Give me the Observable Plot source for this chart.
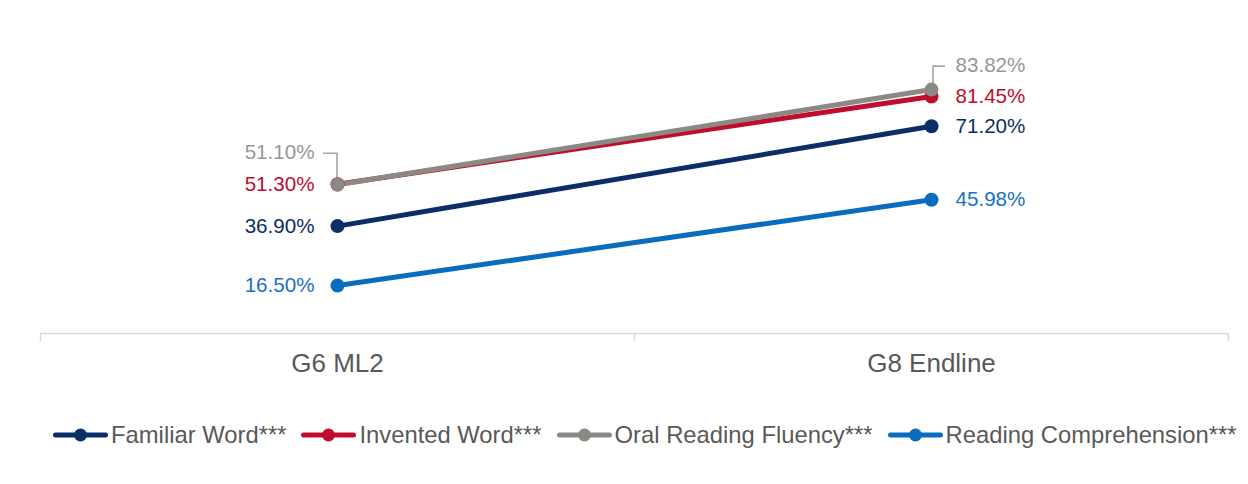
<!DOCTYPE html>
<html>
<head>
<meta charset="utf-8">
<script src="https://cdn.jsdelivr.net/npm/d3@7"></script>
<script src="https://cdn.jsdelivr.net/npm/@observablehq/plot@0.6"></script>
<style>
  html, body { margin: 0; padding: 0; background: #fff; }
  body { width: 1248px; height: 484px; position: relative; overflow: hidden;
         font-family: "Liberation Sans", Arial, sans-serif; }
  #legend { position: absolute; top: 421px; left: 53px; display: flex; align-items: center;
            font-size: 23.8px; color: #595959; white-space: nowrap; }
  #legend .item { display: flex; align-items: center; margin-right: 15px; }
  #legend svg { margin-right: 3px; }
</style>
</head>
<body>
<div id="chart"></div>
<div id="legend"></div>
<script>
// Rounds of assessment
const rounds = ["G6 ML2", "G8 Endline"];

// Reading skills (legend order) and their colours
const skills = ["Familiar Word***", "Invented Word***", "Oral Reading Fluency***", "Reading Comprehension***"];
const skillColors = ["#0B2E66", "#C00D2D", "#8C8985", "#0A6CBE"];
const labelColors = ["#0B2E66", "#C00D2D", "#979797", "#1A70C2"];

// Percentage of pupils at each round, per skill
const familiarWord = [36.90, 71.20];
const inventedWord = [51.30, 81.45];
const oralReadingFluency = [51.10, 83.82];
const readingComprehension = [16.50, 45.98];

const seriesValues = [familiarWord, inventedWord, oralReadingFluency, readingComprehension];

// Long table: one row per skill and round; x is the round's position within its band
const rows = skills.flatMap((skill, s) =>
  rounds.map((round, r) => ({skill, s, round, r, x: r + 0.5, value: seriesValues[s][r]})));

// Drawing order: lighter series underneath, Oral Reading Fluency on top
const drawOrder = [3, 0, 1, 2];

// Label placement: left round labels sit left of the dot, right round labels to the right;
// the fluency labels are lifted and tied back to their dots with a leader
const labelLift = {left: -32, right: -24};
const lifted = d => d.s === 2;
const labelSize = 20.6;

function leaders(index, scales) {
  const g = d3.create("svg:g")
    .attr("fill", "none")
    .attr("stroke", "#A6A6A6")
    .attr("stroke-width", 1.6);
  for (const d of rows.filter(lifted)) {
    const px = scales.x(d.x), py = scales.y(d.value);
    const left = d.r === 0;
    const lift = left ? labelLift.left : labelLift.right;
    const vx = left ? px : px + 2;
    const hx = left ? px - 14 : px + 14;
    g.append("path").attr("d", `M${vx},${py - 2}V${py + lift + 1}H${hx}`);
  }
  return g.node();
}

const valueText = d => d.value.toFixed(2) + "%";

const chart = Plot.plot({
  width: 1248,
  height: 400,
  marginLeft: 40,
  marginRight: 20,
  marginTop: 42,
  marginBottom: 67,
  style: {fontFamily: "'Liberation Sans', Arial, sans-serif", background: "#fff"},
  x: {type: "linear", domain: [0, rounds.length], axis: null},
  y: {domain: [0, 100], axis: null},
  marks: [
    // category axis: baseline, band boundaries, labels
    Plot.ruleY([0], {stroke: "#D9D9D9", strokeWidth: 1.5}),
    Plot.axisX(d3.range(rounds.length + 1), {
      label: null, tickSize: 8, stroke: "#D9D9D9", strokeWidth: 1.5, tickFormat: () => ""
    }),
    Plot.axisX(rounds.map((_, i) => i + 0.5), {
      label: null, tickSize: 0, tickPadding: 20, fontSize: 26, fill: "#595959",
      tickFormat: v => rounds[Math.round(v - 0.5)]
    }),
    leaders,
    ...drawOrder.map(s => Plot.line(rows.filter(d => d.s === s), {
      x: "x", y: "value", stroke: skillColors[s], strokeWidth: 5, strokeLinecap: "round"
    })),
    ...drawOrder.map(s => Plot.dot(rows.filter(d => d.s === s), {
      x: "x", y: "value", r: 7, fill: skillColors[s], stroke: "none"
    })),
    // value labels, left round
    Plot.text(rows.filter(d => d.r === 0 && !lifted(d)), {
      x: "x", y: "value", text: valueText,
      textAnchor: "end", dx: -23, fontSize: labelSize, fill: d => labelColors[d.s]
    }),
    Plot.text(rows.filter(d => d.r === 0 && lifted(d)), {
      x: "x", y: "value", text: valueText,
      textAnchor: "end", dx: -23, dy: labelLift.left, fontSize: labelSize, fill: d => labelColors[d.s]
    }),
    // value labels, right round
    Plot.text(rows.filter(d => d.r === 1 && !lifted(d)), {
      x: "x", y: "value", text: valueText,
      textAnchor: "start", dx: 24, fontSize: labelSize, fill: d => labelColors[d.s]
    }),
    Plot.text(rows.filter(d => d.r === 1 && lifted(d)), {
      x: "x", y: "value", text: valueText,
      textAnchor: "start", dx: 24, dy: labelLift.right, fontSize: labelSize, fill: d => labelColors[d.s]
    })
  ]
});
document.getElementById("chart").append(chart);

// Legend: line-and-dot swatch followed by the skill name
const legend = d3.select("#legend");
skills.forEach((skill, s) => {
  const item = legend.append("div").attr("class", "item");
  const sw = item.append("svg").attr("width", 55).attr("height", 16);
  sw.append("line").attr("x1", 2.5).attr("x2", 52.5).attr("y1", 8).attr("y2", 8)
    .attr("stroke", skillColors[s]).attr("stroke-width", 5).attr("stroke-linecap", "round");
  sw.append("circle").attr("cx", 27.5).attr("cy", 8).attr("r", 6.5).attr("fill", skillColors[s]);
  item.append("span").text(skill);
});
</script>
</body>
</html>
